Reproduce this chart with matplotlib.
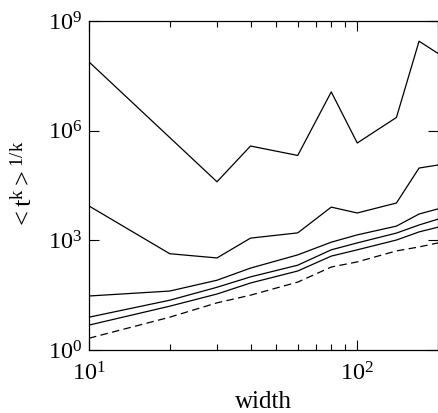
import numpy as np
import matplotlib
matplotlib.use('Agg')
import matplotlib.pyplot as plt
from matplotlib.ticker import LogLocator, FixedLocator, NullFormatter

plt.rcParams['font.family'] = 'Liberation Serif'
plt.rcParams['mathtext.fontset'] = 'custom'
plt.rcParams['mathtext.rm'] = 'Liberation Serif'
plt.rcParams['mathtext.it'] = 'Liberation Serif'

# widths sampled
width = [10, 20, 30, 40, 60, 80, 100, 140, 170, 200]
width_top = [10, 30, 40, 60, 80, 100, 140, 170, 200]

# <t^k>^(1/k) for each k
t_k1 = [7.6e7, 4.0e4, 3.8e5, 2.1e5, 1.15e7, 4.6e5, 2.3e6, 2.8e8, 1.3e8]
t_k2 = [8.7e3, 4.3e2, 3.3e2, 1.15e3, 1.6e3, 8.1e3, 5.6e3, 1.05e4, 9.5e4, 1.15e5]
t_k3 = [30, 41, 81, 174, 400, 890, 1410, 2450, 5250, 7240]
t_k4 = [7.9, 23, 52, 100, 209, 550, 850, 1580, 2630, 3800]
t_k5 = [4.8, 15.8, 34, 68, 145, 370, 550, 1020, 1700, 2290]
t_ref = [2.1, 7.9, 19.5, 31.6, 72, 186, 257, 513, 660, 850]

fig = plt.figure(figsize=(4.38, 4.13), dpi=100)
ax = fig.add_axes([89/438, 1 - 350/413, 1 - 89/438, (350 - 21)/413])

lw = 0.9
ax.plot(width_top, t_k1, color='black', lw=lw)
ax.plot(width, t_k2, color='black', lw=lw)
ax.plot(width, t_k3, color='black', lw=lw)
ax.plot(width, t_k4, color='black', lw=lw)
ax.plot(width, t_k5, color='black', lw=lw)
ax.plot(width, t_ref, color='black', lw=lw, linestyle=(0, (6, 3.5)))

ax.set_xscale('log')
ax.set_yscale('log')
ax.set_xlim(10, 200)
ax.set_ylim(1, 1e9)

ax.xaxis.set_major_locator(FixedLocator([10, 100]))
ax.xaxis.set_minor_locator(LogLocator(base=10, subs=np.arange(2, 10)))
ax.xaxis.set_minor_formatter(NullFormatter())
ax.set_xticklabels([r'$\mathrm{10^{1}}$', r'$\mathrm{10^{2}}$'])
ax.yaxis.set_major_locator(FixedLocator([1, 1e3, 1e6, 1e9]))
ax.yaxis.set_minor_locator(FixedLocator([]))
ax.set_yticklabels([r'$\mathrm{10^{0}}$', r'$\mathrm{10^{3}}$',
                    r'$\mathrm{10^{6}}$', r'$\mathrm{10^{9}}$'])

ax.tick_params(which='both', direction='in', top=True, right=True,
               labelsize=17.5, width=0.8)
ax.tick_params(which='major', length=7, pad=5)
ax.tick_params(axis='x', which='major', pad=9)
ax.tick_params(which='minor', length=4)
for s in ax.spines.values():
    s.set_linewidth(0.9)

ax.set_xlabel('width', fontsize=18, labelpad=4)
ax.set_ylabel(r'$\mathrm{<t^{k}>^{1/k}}$', fontsize=19, labelpad=8)

fig.savefig('out.png', dpi=100)
